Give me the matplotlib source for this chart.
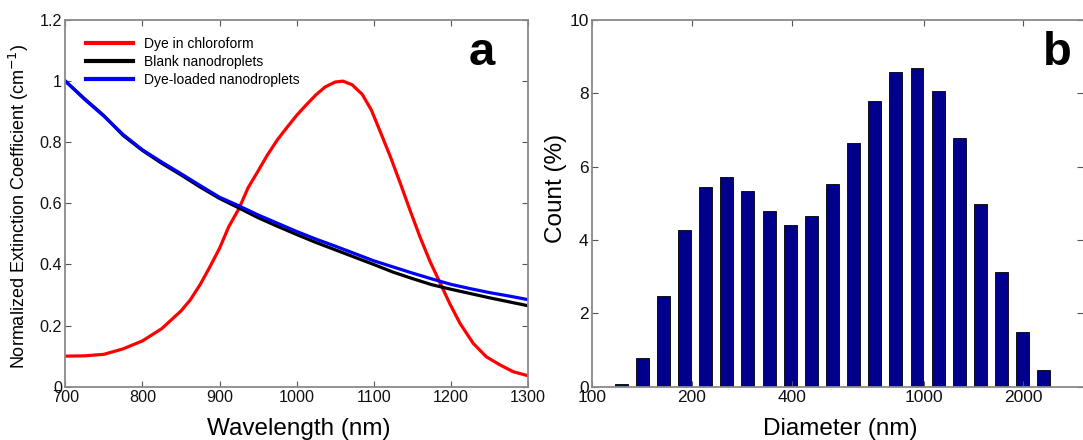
import matplotlib
matplotlib.use("Agg")
import matplotlib.pyplot as plt
import numpy as np
from matplotlib.ticker import FixedLocator, FuncFormatter, NullLocator

plt.rcParams['font.family'] = ['Liberation Sans', 'DejaVu Sans']

# ---- (a) normalized extinction spectra ----
wavelength = [700, 725, 750, 775, 800, 825, 850, 875, 900, 925, 950, 975, 1000,
              1025, 1050, 1075, 1100, 1125, 1150, 1175, 1200, 1225, 1250, 1275, 1300]
blank_np = [1.000, 0.942, 0.887, 0.822, 0.773, 0.731, 0.693, 0.653, 0.616, 0.585,
            0.553, 0.525, 0.498, 0.472, 0.448, 0.424, 0.400, 0.375, 0.354, 0.334,
            0.319, 0.305, 0.291, 0.278, 0.265]
dye_np = [1.000, 0.940, 0.885, 0.825, 0.775, 0.735, 0.697, 0.658, 0.620, 0.592,
          0.562, 0.535, 0.508, 0.483, 0.460, 0.436, 0.412, 0.392, 0.372, 0.353,
          0.335, 0.321, 0.308, 0.297, 0.285]

dye_wl = [700, 725, 750, 775, 800, 825, 850, 862, 875, 887, 900, 912, 925, 937,
          950, 962, 975, 987, 1000, 1012, 1025, 1037, 1050, 1060, 1072, 1085,
          1097, 1110, 1122, 1135, 1147, 1160, 1173, 1186, 1199, 1212, 1229,
          1246, 1264, 1281, 1300]
dye_chcl3 = [0.100, 0.101, 0.106, 0.124, 0.150, 0.190, 0.248, 0.284, 0.335, 0.390,
             0.453, 0.524, 0.582, 0.651, 0.706, 0.758, 0.808, 0.847, 0.888, 0.921,
             0.955, 0.981, 0.997, 1.000, 0.988, 0.957, 0.905, 0.825, 0.750, 0.662,
             0.578, 0.490, 0.410, 0.340, 0.270, 0.207, 0.142, 0.098, 0.071, 0.049,
             0.036]

# ---- (b) size distribution ----
diameter = [122.4, 141.8, 164.2, 190.1, 220.2, 255.0, 295.3, 342.0, 396.1, 458.7,
            531.2, 615.1, 712.4, 825.0, 955.4, 1106, 1281, 1484, 1718, 1990, 2305]
count_pct = [0.06, 0.77, 2.48, 4.27, 5.44, 5.71, 5.35, 4.78, 4.42, 4.66, 5.54,
             6.65, 7.80, 8.58, 8.70, 8.07, 6.78, 4.98, 3.14, 1.49, 0.45]

W, H = 1083, 440
fig = plt.figure(figsize=(W / 100, H / 100), dpi=100)

spine_col = '#8a8a8a'
tick_col = '#555555'


def style(ax, size):
    for s in ax.spines.values():
        s.set_color(spine_col)
        s.set_linewidth(1.3)
    ax.tick_params(direction='in', top=True, right=True, length=4, width=0.8,
                   color=tick_col, labelsize=size, labelcolor='#111111', pad=2.5)


# panel a
axa = fig.add_axes([65.4 / W, (H - 386.7) / H, 462.5 / W, 366.7 / H])
axa.plot(dye_wl, dye_chcl3, color='#ff0000', lw=2.3, label='Dye in chloroform',
         solid_joinstyle='round')
axa.plot(wavelength, blank_np, color='black', lw=2.3, label='Blank nanodroplets',
         solid_joinstyle='round')
axa.plot(wavelength, dye_np, color='#0000ff', lw=2.3, label='Dye-loaded nanodroplets',
         solid_joinstyle='round')
axa.set_xlim(700, 1300)
axa.set_ylim(0, 1.2)
axa.xaxis.set_major_locator(FixedLocator(np.arange(700, 1301, 100)))
axa.yaxis.set_major_locator(FixedLocator([0, 0.2, 0.4, 0.6, 0.8, 1.0, 1.2]))
axa.yaxis.set_major_formatter(FuncFormatter(lambda v, p: ('%g' % round(v, 2))))
style(axa, 11.6)
axa.set_xlabel('Wavelength (nm)', fontsize=17.5, va='baseline')
axa.xaxis.set_label_coords(0.504, -0.133)
axa.set_ylabel('Normalized Extinction Coefficient (cm$^{-1}$)', fontsize=13, va='center')
axa.yaxis.set_label_coords(-0.1003, 0.493)
leg = axa.legend(loc='upper left', bbox_to_anchor=(0.0445, 0.954), frameon=False,
                 fontsize=10, handlelength=3.35, handletextpad=0.86,
                 labelspacing=0.30, borderpad=0, borderaxespad=0)
for ln in leg.get_lines():
    ln.set_linewidth(3)
axa.text(0.901, 0.877, 'a', transform=axa.transAxes, fontsize=34,
         fontweight='bold', ha='center', va='baseline')

# panel b
xmax = 10 ** (2 + 491 / 331.6)
axb = fig.add_axes([592 / W, (H - 386.7) / H, 491 / W, 366.7 / H])
ratio = diameter[1] / diameter[0]
half = ratio ** 0.305
d = np.array(diameter)
axb.bar(d / half, count_pct, width=d * half - d / half, align='edge',
        color='#00008c', edgecolor='black', linewidth=0.6)
axb.set_xscale('log')
axb.set_xlim(100, xmax)
axb.set_ylim(0, 10)
axb.xaxis.set_major_locator(FixedLocator([100, 200, 400, 1000, 2000]))
axb.xaxis.set_major_formatter(FuncFormatter(lambda v, p: '%d' % v))
axb.xaxis.set_minor_locator(NullLocator())
axb.yaxis.set_major_locator(FixedLocator([0, 2, 4, 6, 8, 10]))
style(axb, 12.5)
axb.spines['right'].set_visible(False)
axb.set_xlabel('Diameter (nm)', fontsize=17.5, va='baseline')
axb.xaxis.set_label_coords(0.506, -0.132)
axb.set_ylabel('Count (%)', fontsize=17.5, va='center')
axb.yaxis.set_label_coords(-0.0741, 0.542)
axb.text(0.948, 0.8775, 'b', transform=axb.transAxes, fontsize=34,
         fontweight='bold', ha='center', va='baseline')

fig.savefig('out.png', dpi=100)
